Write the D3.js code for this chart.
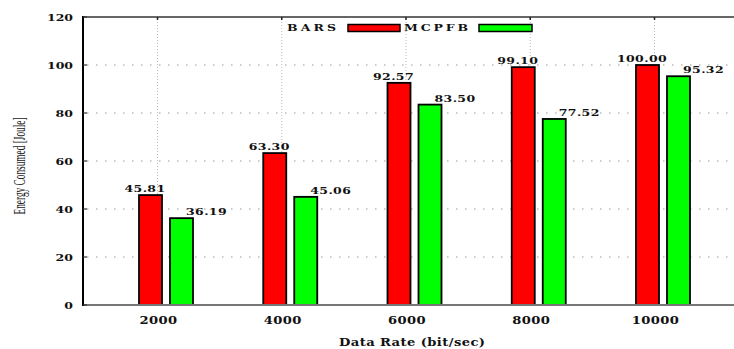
<!DOCTYPE html>
<html>
<head>
<meta charset="utf-8">
<script src="https://cdn.jsdelivr.net/npm/d3@7"></script>
<style>
  html, body { margin: 0; padding: 0; background: #fff; }
  svg { display: block; }
</style>
</head>
<body>
<svg id="chart" width="734" height="349"></svg>
<script>
// Data rates on the x axis and energy per protocol
const dataRates = [2000, 4000, 6000, 8000, 10000];
const barsEnergy = [45.81, 63.30, 92.57, 99.10, 100.00];
const mcpfbEnergy = [36.19, 45.06, 83.50, 77.52, 95.32];
const seriesNames = ["BARS", "MCPFB"];
const seriesColors = ["#ff0000", "#00ff00"];
const yTicks = [0, 20, 40, 60, 80, 100, 120];

const svg = d3.select("#chart");
const W = 734, H = 349;
const plotLeft = 83, plotTop = 17, plotBottom = 305;

const x = d3.scaleLinear().domain([2000, 10000]).range([157.5, 654.5]);
const y = d3.scaleLinear().domain([0, 120]).range([plotBottom, plotTop]);

const numFont = "'DejaVu Serif', serif";
const stretch = 1.25; // wide serif lettering

// horizontal grid (sparse dots)
svg.append("g").selectAll("line").data(yTicks.filter(d => d > 0 && d < 120)).join("line")
  .attr("x1", plotLeft + 4).attr("x2", W)
  .attr("y1", d => y(d)).attr("y2", d => y(d))
  .attr("stroke", "#999").attr("stroke-width", 1)
  .attr("stroke-dasharray", "1.5,7.5");

// vertical grid (dense dots)
svg.append("g").selectAll("line").data(dataRates).join("line")
  .attr("x1", d => x(d)).attr("x2", d => x(d))
  .attr("y1", plotTop + 2).attr("y2", plotBottom)
  .attr("stroke", "#bbb").attr("stroke-width", 1)
  .attr("stroke-dasharray", "1,2");

// top frame line with small ticks
svg.append("line").attr("x1", plotLeft).attr("x2", W).attr("y1", plotTop).attr("y2", plotTop)
  .attr("stroke", "#666").attr("stroke-width", 2);
svg.append("g").selectAll("line").data(dataRates).join("line")
  .attr("x1", d => x(d)).attr("x2", d => x(d))
  .attr("y1", plotTop).attr("y2", plotTop + 3)
  .attr("stroke", "#222").attr("stroke-width", 1.5);

// bars
const barW = 25;
const offsets = [-19.5, 11.5];
const seriesValues = [barsEnergy, mcpfbEnergy];
seriesValues.forEach((vals, s) => {
  svg.append("g").selectAll("rect").data(dataRates).join("rect")
    .attr("x", (d, i) => x(d) + offsets[s] + 1)
    .attr("y", (d, i) => y(vals[i]))
    .attr("width", barW - 2)
    .attr("height", (d, i) => y(0) - y(vals[i]))
    .attr("fill", seriesColors[s])
    .attr("stroke", "#000").attr("stroke-width", 1.8);
});

// bottom axis line
svg.append("line").attr("x1", plotLeft).attr("x2", W).attr("y1", plotBottom).attr("y2", plotBottom)
  .attr("stroke", "#777").attr("stroke-width", 2);

// left axis with ticks
svg.append("line").attr("x1", plotLeft).attr("x2", plotLeft).attr("y1", plotTop - 1).attr("y2", plotBottom + 1)
  .attr("stroke", "#000").attr("stroke-width", 2);
svg.append("g").selectAll("line").data(yTicks).join("line")
  .attr("x1", plotLeft).attr("x2", plotLeft + 4)
  .attr("y1", d => y(d)).attr("y2", d => y(d))
  .attr("stroke", "#333").attr("stroke-width", 1.2);

function wideText(sel, fx, fy, size) {
  return sel
    .attr("transform", (d, i) => `translate(${fx(d, i)},${fy(d, i)}) scale(${stretch},1)`)
    .attr("font-family", numFont).attr("font-weight", "bold").attr("font-size", size)
    .attr("fill", "#111");
}

// y tick labels
wideText(svg.append("g").selectAll("text").data(yTicks).join("text"),
  () => 73, d => y(d) + 3.5, 10)
  .attr("text-anchor", "end")
  .text(d => d);

// x tick labels
wideText(svg.append("g").selectAll("text").data(dataRates).join("text"),
  d => x(d) + 1, () => 324, 10.5)
  .attr("text-anchor", "middle")
  .attr("letter-spacing", 0.3)
  .text(d => d);

// value labels above bars
const labelDx = [-12.5, 49];
seriesValues.forEach((vals, s) => {
  wideText(svg.append("g").selectAll("text").data(dataRates).join("text"),
    d => x(d) + labelDx[s], (d, i) => y(vals[i]) - 3, 10)
    .attr("text-anchor", "middle")
    .attr("letter-spacing", 0.3)
    .text((d, i) => vals[i].toFixed(2));
});

// legend
const legend = svg.append("g");
const legendItems = [
  { textX: 287, textW: 49, boxX: 348, boxW: 52 },
  { textX: 404, textW: 64, boxX: 479, boxW: 53 }
];
legendItems.forEach((it, s) => {
  legend.append("text")
    .attr("transform", `translate(${it.textX},31) scale(${stretch},1)`)
    .attr("font-family", numFont).attr("font-weight", "bold").attr("font-size", 10)
    .attr("textLength", it.textW / stretch).attr("lengthAdjust", "spacing")
    .attr("fill", "#111")
    .text(seriesNames[s]);
  legend.append("rect")
    .attr("x", it.boxX).attr("y", 24.5).attr("width", it.boxW).attr("height", 7)
    .attr("fill", seriesColors[s]).attr("stroke", "#000").attr("stroke-width", 1.5);
});

// axis titles
svg.append("text")
  .attr("transform", `translate(412,346) scale(${stretch},1)`)
  .attr("text-anchor", "middle")
  .attr("font-family", numFont).attr("font-weight", "bold").attr("font-size", 10.5)
  .attr("textLength", 146 / stretch).attr("lengthAdjust", "spacing")
  .attr("fill", "#111")
  .text("Data Rate (bit/sec)");

svg.append("text")
  .attr("transform", "translate(25,166) rotate(-90)")
  .attr("text-anchor", "middle")
  .attr("font-family", "'Liberation Serif', serif").attr("font-size", 16)
  .attr("textLength", 97).attr("lengthAdjust", "spacingAndGlyphs")
  .attr("fill", "#222")
  .text("Energy Consumed [Joule]");
</script>
</body>
</html>
